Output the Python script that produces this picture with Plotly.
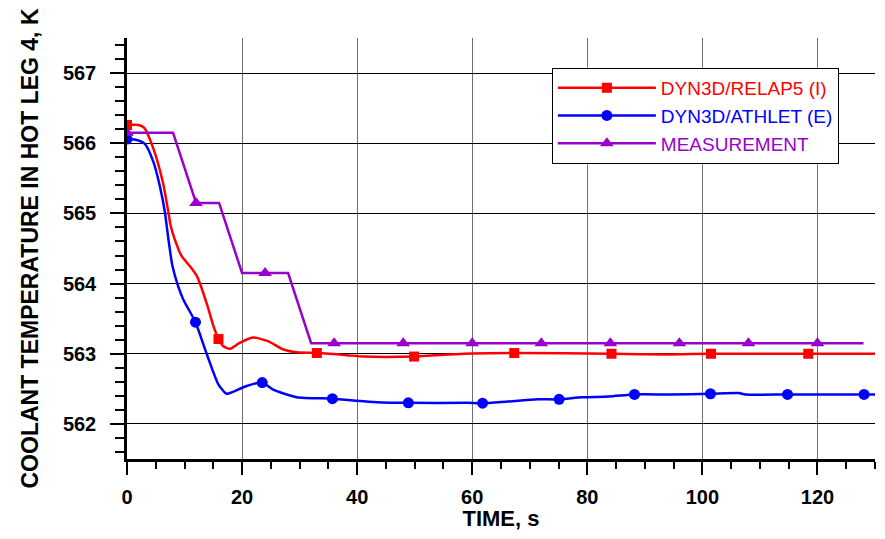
import plotly.graph_objects as go

# ---------------- data ----------------
# DYN3D/RELAP5 (I)
relap_t = [0, 2.0, 3.0, 4.6, 6.3, 7.2, 7.6, 8.3, 9.5, 10.9, 12.2, 14.0, 15.0, 15.9, 16.7, 17.9,
           19.5, 21.9, 24.5, 27.2, 29.5, 33.0, 38.2, 41.1, 49.9, 58.5, 67.3, 84.2, 94.6, 101.5,
           118.4, 130]
relap_T = [566.26, 566.26, 566.22, 565.92, 565.42, 565.01, 564.82, 564.63, 564.39, 564.25, 564.10,
           563.68, 563.40, 563.21, 563.11, 563.07, 563.15, 563.23, 563.18, 563.06, 563.02, 563.01,
           562.98, 562.96, 562.96, 563.00, 563.01, 563.00, 562.99, 563.00, 563.00, 563.00]
relap_mark_t = [0, 15.9, 33.0, 49.9, 67.3, 84.2, 101.5, 118.4]
relap_mark_T = [566.26, 563.21, 563.01, 562.96, 563.01, 563.00, 563.00, 563.00]

# DYN3D/ATHLET (E)
athlet_t = [0, 1.5, 3.1, 4.6, 5.7, 6.6, 7.2, 7.9, 8.9, 9.8, 11.9, 13.8, 15.9, 17.3, 17.9, 20.8,
            23.5, 25.4, 29.5, 35.7, 39.9, 43.4, 48.9, 59.1, 61.8, 66.2, 71.4, 75.1, 79.1, 83.7,
            88.2, 94.6, 101.4, 106.3, 107.5, 114.8, 128.1, 130]
athlet_T = [566.06, 566.05, 565.99, 565.73, 565.39, 565.01, 564.63, 564.25, 563.96, 563.77, 563.45,
            563.01, 562.56, 562.43, 562.44, 562.54, 562.59, 562.49, 562.38, 562.36, 562.33, 562.31,
            562.30, 562.30, 562.295, 562.32, 562.35, 562.35, 562.38, 562.39, 562.42, 562.42,
            562.43, 562.44, 562.42, 562.42, 562.42, 562.42]
athlet_mark_t = [0, 11.9, 23.5, 35.7, 48.9, 61.8, 75.1, 88.2, 101.4, 114.8, 128.1]
athlet_mark_T = [566.06, 563.45, 562.59, 562.36, 562.30, 562.295, 562.35, 562.42, 562.43, 562.42, 562.42]

# MEASUREMENT (sampled every 4 s)
meas_t = [0, 4, 8, 12, 16, 20, 24, 28, 32, 36, 40, 44, 48, 52, 56, 60, 64, 68, 72, 76, 80,
          84, 88, 92, 96, 100, 104, 108, 112, 116, 120, 124, 128]
meas_T = [566.15, 566.15, 566.15, 565.15, 565.15, 564.15, 564.15, 564.15] + [563.15] * 25
meas_mark_t = meas_t[0:31:3]
meas_mark_T = meas_T[0:31:3]

names = ["DYN3D/RELAP5 (I)", "DYN3D/ATHLET (E)", "MEASUREMENT"]
colors = ["#ff0000", "#0000ff", "#9900cc"]
symbols = ["square", "circle", "triangle-up"]
msizes = [10, 11, 12]

x_ticks = [0, 20, 40, 60, 80, 100, 120]
y_ticks = [562, 563, 564, 565, 566, 567]

FONT = "Liberation Sans, Arial, sans-serif"

fig = go.Figure()
series = [(relap_t, relap_T, relap_mark_t, relap_mark_T, "spline"),
          (athlet_t, athlet_T, athlet_mark_t, athlet_mark_T, "spline"),
          (meas_t, meas_T, meas_mark_t, meas_mark_T, "linear")]
for i, (t, T, mt, mT, shape) in enumerate(series):
    fig.add_trace(go.Scatter(x=t, y=T, mode="lines", line=dict(color=colors[i], width=2.5, shape=shape,
                                                                 smoothing=0.6),
                             showlegend=False, hoverinfo="skip"))
    fig.add_trace(go.Scatter(x=mt, y=mT, mode="markers",
                             marker=dict(symbol=symbols[i], size=msizes[i], color=colors[i]),
                             showlegend=False))
for i in range(3):
    fig.add_trace(go.Scatter(x=[None], y=[None], mode="lines+markers",
                             line=dict(color=colors[i], width=2.5),
                             marker=dict(symbol=symbols[i], size=msizes[i], color=colors[i]),
                             name='<span style="color:%s">%s</span>' % (colors[i], names[i])))

fig.update_layout(
    width=869, height=523,
    margin=dict(l=119, r=2, t=30, b=72),
    paper_bgcolor="white", plot_bgcolor="white",
    font=dict(family=FONT, color="black"),
    legend=dict(x=0.568, y=0.929, xanchor="left", yanchor="top",
                bgcolor="white", bordercolor="black", borderwidth=1,
                font=dict(family=FONT, size=19), itemwidth=98,
                tracegroupgap=0),
)
fig.update_xaxes(
    range=[0, 130], tickvals=x_ticks, ticks="outside", ticklen=13, tickwidth=2, tickcolor="black",
    showline=True, linewidth=2.5, linecolor="black", zeroline=False, automargin=False,
    showgrid=True, gridcolor="#707070", gridwidth=1.3,
    tickfont=dict(family=FONT, size=20, weight="bold"), ticklabelstandoff=5,
    minor=dict(dtick=5, tick0=0, ticks="outside", ticklen=7, tickwidth=2, tickcolor="black", showgrid=False),
    title=dict(text="TIME, s", font=dict(family=FONT, size=22, weight="bold"), standoff=2),
)
fig.update_yaxes(
    range=[561.5, 567.5], tickvals=y_ticks, ticks="outside", ticklen=14, tickwidth=2, tickcolor="black",
    showline=True, linewidth=2.5, linecolor="black", zeroline=False, automargin=False,
    showgrid=True, gridcolor="black", gridwidth=1,
    tickfont=dict(family=FONT, size=20, weight="bold"), ticklabelstandoff=10,
    minor=dict(dtick=0.2, tick0=561.6, ticks="outside", ticklen=9, tickwidth=2, tickcolor="black", showgrid=False),
    title=dict(text="COOLANT TEMPERATURE IN HOT LEG 4, K", font=dict(family=FONT, size=23, weight="bold"),
               standoff=18),
)

fig.write_html("out.html")
